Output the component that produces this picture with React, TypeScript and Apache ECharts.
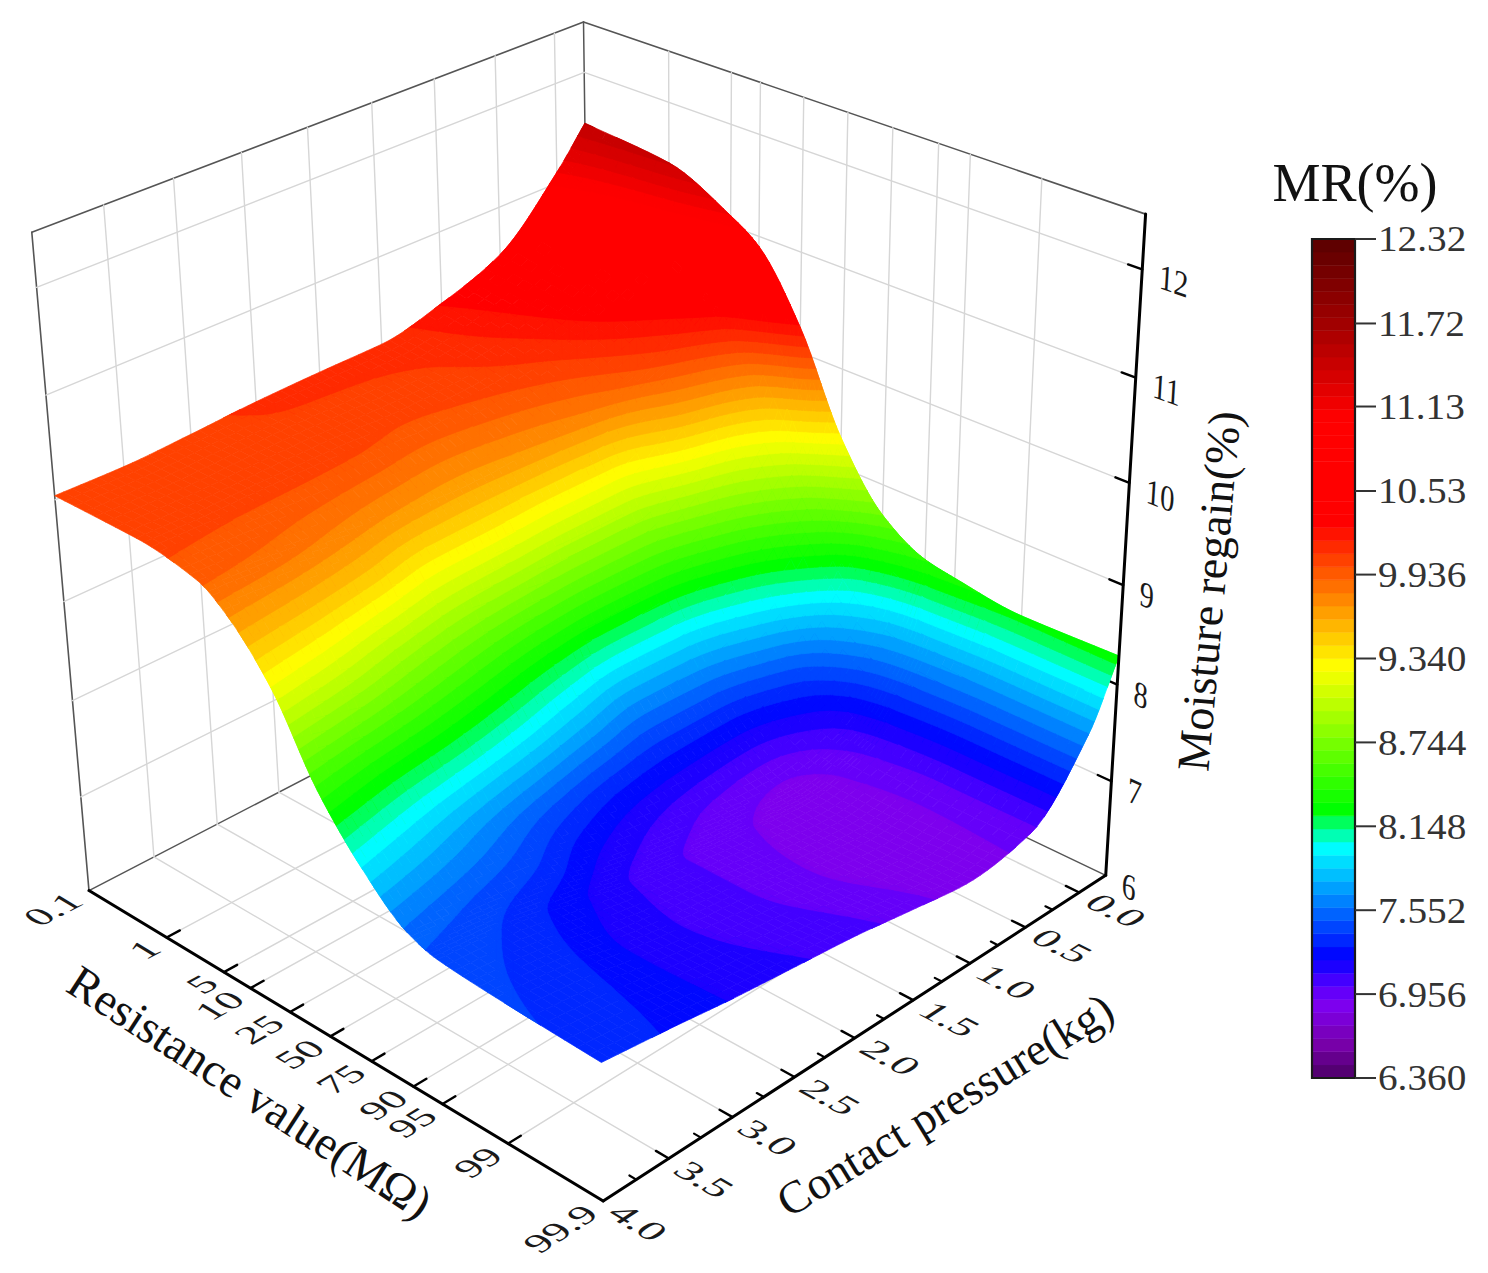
import React, { useEffect, useRef } from "react";
import * as echarts from "echarts";

const FONT = "'Liberation Serif', 'Times New Roman', serif";

// ---- tick labels ----
const resistanceTicks = [0.1, 1, 5, 10, 25, 50, 75, 90, 95, 99, 99.9];
const pressureMajor = [0, 0.5, 1, 1.5, 2, 2.5, 3, 3.5, 4];
const pressureMinor = [0.25, 0.75, 1.25, 1.75, 2.25, 2.75, 3.25, 3.75];
const moistureTicks = [6, 7, 8, 9, 10, 11, 12];
const colorbarTicks = [6.36, 6.956, 7.552, 8.148, 8.744, 9.34, 9.936, 10.53, 11.13, 11.72, 12.32];
const colorbarLabels = ["6.360", "6.956", "7.552", "8.148", "8.744", "9.340", "9.936", "10.53", "11.13", "11.72", "12.32"];

// ---- axis ranges ----
const pressureStart = -0.25;
const pressureEnd = 4;
const moistureMin = 6;
const moistureMax = 12.5;

// ---- surface values: one row per pressure, one value per resistance tick ----
const pressureRows = [-0.25, 0, 0.5, 1, 1.5, 2, 2.5, 3, 3.5, 4];
const mrAtEdge = [11.49, 11.4, 11.1, 10.9, 10.25, 9.3, 8.69, 8.42, 8.36, 8.27, 8.29];
const mrAt00 = [11.11, 10.75, 10.4, 10.1, 9.35, 8.6, 8.0, 7.75, 7.7, 7.65, 7.65];
const mrAt05 = [10.52, 10.35, 10.05, 9.7, 8.75, 7.95, 7.35, 7.08, 7.02, 6.98, 6.98];
const mrAt10 = [10.28, 10.12, 9.82, 9.3, 8.45, 7.68, 7.2, 6.92, 6.86, 6.84, 6.87];
const mrAt15 = [10.13, 10.03, 9.72, 9.3, 8.42, 7.65, 7.22, 6.97, 6.92, 6.9, 6.95];
const mrAt20 = [10.12, 10.0, 9.68, 9.35, 8.5, 7.82, 7.28, 7.06, 7.0, 7.0, 7.05];
const mrAt25 = [10.1, 10.03, 9.72, 9.38, 8.65, 8.02, 7.42, 7.18, 7.1, 7.08, 7.12];
const mrAt30 = [10.06, 10.03, 9.8, 9.55, 8.85, 8.18, 7.6, 7.36, 7.24, 7.18, 7.19];
const mrAt35 = [10.03, 10.02, 9.88, 9.66, 9.08, 8.3, 7.78, 7.46, 7.38, 7.32, 7.28];
const mrAt40 = [10.04, 10.03, 9.92, 9.73, 9.24, 8.47, 7.93, 7.55, 7.45, 7.4, 7.36];
const moistureRows = [mrAtEdge, mrAt00, mrAt05, mrAt10, mrAt15, mrAt20, mrAt25, mrAt30, mrAt35, mrAt40];

// ---- colour scale ----
const colorStopValues = [6.36, 6.6, 6.9, 7.05, 7.22, 8.0, 8.14, 8.27, 9.28, 10.3, 11.05, 11.72, 12.32];
const colorStopRgb = [
  [75, 0, 100], [120, 0, 170], [125, 0, 245], [70, 0, 255], [0, 0, 255], [0, 255, 255], [0, 255, 128],
  [0, 255, 0], [255, 255, 0], [255, 0, 0], [255, 0, 0], [160, 0, 0], [90, 0, 0],
];
const bandCount = 64;
const barMin = 6.36;
const barMax = 12.32;
const bandLow = (i: number) => barMin + ((barMax - barMin) * i) / bandCount;

function colorOf(v: number) {
  let i = 0;
  while (i < colorStopValues.length - 2 && v > colorStopValues[i + 1]) i++;
  const f = Math.max(0, Math.min(1, (v - colorStopValues[i]) / (colorStopValues[i + 1] - colorStopValues[i])));
  const a = colorStopRgb[i];
  const b = colorStopRgb[i + 1];
  return `rgb(${Math.round(a[0] + (b[0] - a[0]) * f)},${Math.round(a[1] + (b[1] - a[1]) * f)},${Math.round(a[2] + (b[2] - a[2]) * f)})`;
}
const bandColor = (i: number) => colorOf(bandLow(i) + (barMax - barMin) / bandCount / 2);
const bandIndex = (v: number) => Math.max(0, Math.min(bandCount - 1, Math.floor(((v - barMin) / (barMax - barMin)) * bandCount)));

// ---- axis scales ----
const logit = (pct: number) => Math.log(pct / 100 / (1 - pct / 100));
const sOf = (r: number) => (logit(r) - logit(0.1)) / (logit(99.9) - logit(0.1));
const tOf = (p: number) => (p - pressureStart) / (pressureEnd - pressureStart);
const wOf = (z: number) => (z - moistureMin) / (moistureMax - moistureMin);

// ---- camera calibration: [s, t, w, screenX, screenY] ----
const cameraAnchors = [
  [0, 1, 0, 89, 890], [1, 1, 0, 604, 1201], [1, 0, 0, 1106, 876], [0, 0, 0, 591, 630],
  [0, 1, 1, 31, 233], [1, 0, 1, 1146, 213], [0, 0, 1, 585, 22],
  [1, 0, 3 / 6.5, 1123, 585], [1, 0, 6 / 6.5, 1141, 270],
];
function solveCamera() {
  const A: number[][] = [];
  const b: number[] = [];
  for (const [s, t, w, x, y] of cameraAnchors) {
    A.push([s, t, w, 1, 0, 0, 0, 0, -x * s, -x * t, -x * w]);
    b.push(x);
    A.push([0, 0, 0, 0, s, t, w, 1, -y * s, -y * t, -y * w]);
    b.push(y);
  }
  const n = 11;
  const M = Array.from({ length: n }, (_, i) => {
    const row = new Array(n + 1).fill(0);
    for (let j = 0; j < n; j++) for (let k = 0; k < A.length; k++) row[j] += A[k][i] * A[k][j];
    for (let k = 0; k < A.length; k++) row[n] += A[k][i] * b[k];
    return row;
  });
  for (let i = 0; i < n; i++) {
    let p = i;
    for (let r = i + 1; r < n; r++) if (Math.abs(M[r][i]) > Math.abs(M[p][i])) p = r;
    [M[i], M[p]] = [M[p], M[i]];
    for (let r = 0; r < n; r++) {
      if (r === i) continue;
      const f = M[r][i] / M[i][i];
      for (let c = i; c <= n; c++) M[r][c] -= f * M[i][c];
    }
  }
  return M.map((row, i) => row[n] / row[i]);
}
const cam = solveCamera();
function project(s: number, t: number, w: number): [number, number] {
  const d = cam[8] * s + cam[9] * t + cam[10] * w + 1;
  return [
    (cam[0] * s + cam[1] * t + cam[2] * w + cam[3]) / d,
    (cam[4] * s + cam[5] * t + cam[6] * w + cam[7]) / d,
  ];
}
function unit(a: [number, number], b: [number, number]): [number, number] {
  const dx = b[0] - a[0];
  const dy = b[1] - a[1];
  const l = Math.hypot(dx, dy) || 1;
  return [dx / l, dy / l];
}

// ---- monotone cubic across nodes ----
function tangents(xs: number[], ys: number[]) {
  const n = xs.length;
  const sec = xs.slice(0, -1).map((_, i) => (ys[i + 1] - ys[i]) / (xs[i + 1] - xs[i]));
  const m = new Array(n).fill(0);
  m[0] = sec[0];
  m[n - 1] = sec[n - 2];
  for (let i = 1; i < n - 1; i++) {
    m[i] = sec[i - 1] * sec[i] <= 0 ? 0 : (2 * sec[i - 1] * sec[i]) / (sec[i - 1] + sec[i]);
  }
  return m;
}
function hermite(xs: number[], ys: number[], x: number) {
  let i = 0;
  while (i < xs.length - 2 && x > xs[i + 1]) i++;
  const m = tangents(xs, ys);
  const h = xs[i + 1] - xs[i];
  const u = (x - xs[i]) / h;
  const u2 = u * u;
  const u3 = u2 * u;
  return (
    (2 * u3 - 3 * u2 + 1) * ys[i] + (u3 - 2 * u2 + u) * h * m[i] + (-2 * u3 + 3 * u2) * ys[i + 1] + (u3 - u2) * h * m[i + 1]
  );
}
const sNodes = resistanceTicks.map(sOf);
const tNodes = pressureRows.map(tOf);
function surfaceZ(s: number, t: number) {
  const col = moistureRows.map((row) => hermite(sNodes, row, s));
  return hermite(tNodes, col, t);
}

// ---- clipping a triangle/quad to a colour band ----
type V = [number, number, number];
function clip(poly: V[], level: number, keepAbove: boolean): V[] {
  const out: V[] = [];
  for (let i = 0; i < poly.length; i++) {
    const a = poly[i];
    const b = poly[(i + 1) % poly.length];
    const ina = keepAbove ? a[2] >= level : a[2] <= level;
    const inb = keepAbove ? b[2] >= level : b[2] <= level;
    if (ina) out.push(a);
    if (ina !== inb) {
      const f = (level - a[2]) / (b[2] - a[2]);
      out.push([a[0] + (b[0] - a[0]) * f, a[1] + (b[1] - a[1]) * f, level]);
    }
  }
  return out;
}
const SUB = 8;
const cellData: number[][] = [];
for (let j = 0; j < pressureRows.length - 1; j++) {
  for (let i = 0; i < resistanceTicks.length - 1; i++) cellData.push([i, j]);
}

function renderCell(_: any, api: any) {
  const i = api.value(0);
  const j = api.value(1);
  const s0 = sNodes[i];
  const s1 = sNodes[i + 1];
  const t0 = tNodes[j];
  const t1 = tNodes[j + 1];
  const verts: V[][] = [];
  for (let a = 0; a <= SUB; a++) {
    const row: V[] = [];
    for (let b = 0; b <= SUB; b++) {
      const s = s0 + ((s1 - s0) * a) / SUB;
      const t = t0 + ((t1 - t0) * b) / SUB;
      const z = surfaceZ(s, t);
      const [x, y] = project(s, t, wOf(z));
      row.push([x, y, z]);
    }
    verts.push(row);
  }
  const children: any[] = [];
  const emit = (poly: V[], band: number) => {
    if (poly.length < 3) return;
    const color = bandColor(band);
    children.push({
      type: "polygon",
      silent: true,
      shape: { points: poly.map((p) => api.coord([p[0], p[1]])) },
      style: { fill: color, stroke: color, lineWidth: 0.7 },
    });
  };
  const drawPoly = (poly: V[]) => {
    const zs = poly.map((p) => p[2]);
    const lo = bandIndex(Math.min(...zs));
    const hi = bandIndex(Math.max(...zs));
    if (lo === hi) {
      emit(poly, lo);
      return;
    }
    for (let k = lo; k <= hi; k++) {
      let piece = poly;
      if (k > lo) piece = clip(piece, bandLow(k), true);
      if (k < hi) piece = clip(piece, bandLow(k + 1), false);
      emit(piece, k);
    }
  };
  for (let a = 0; a < SUB; a++) {
    for (let b = 0; b < SUB; b++) {
      const p = verts[a][b];
      const q = verts[a + 1][b];
      const r = verts[a + 1][b + 1];
      const o = verts[a][b + 1];
      const lo = bandIndex(Math.min(p[2], q[2], r[2], o[2]));
      const hi = bandIndex(Math.max(p[2], q[2], r[2], o[2]));
      if (lo === hi) emit([p, q, r, o], lo);
      else {
        emit([p, q, r, o], Math.round((lo + hi) / 2));
        drawPoly([p, q, r]);
        drawPoly([p, r, o]);
      }
    }
  }
  return { type: "group", children };
}

// ---- line helpers ----
const GRID = "#d6d6d6";
const FRAME = "#555555";
const AXIS = "#000000";
function lineEl(api: any, a: [number, number], b: [number, number], stroke: string, lineWidth: number) {
  const p = api.coord(a);
  const q = api.coord(b);
  return {
    type: "line",
    silent: true,
    shape: { x1: p[0], y1: p[1], x2: q[0], y2: q[1] },
    style: { stroke, lineWidth, lineCap: "round" },
  };
}
// A text placed on a plane of the box: base and down are screen vectors for its x and y units.
function planeText(
  at: number[],
  text: string,
  base: [number, number],
  down: [number, number],
  align: string,
  fontSize: number,
  fill = "#1a1a1a",
) {
  const [a, c] = base;
  const [b, d] = down;
  const E = (a + d) / 2;
  const F = (a - d) / 2;
  const G = (c + b) / 2;
  const H = (c - b) / 2;
  const Q = Math.hypot(E, H);
  const R = Math.hypot(F, G);
  const a1 = Math.atan2(G, F);
  const a2 = Math.atan2(H, E);
  const theta = (a2 - a1) / 2;
  const phi = (a2 + a1) / 2;
  return {
    type: "group",
    x: at[0],
    y: at[1],
    rotation: -phi,
    children: [
      {
        type: "group",
        scaleX: Q + R,
        scaleY: Q - R,
        children: [
          {
            type: "text",
            silent: true,
            rotation: -theta,
            style: { text, x: 0, y: 0, fill, fontFamily: FONT, fontSize, align, verticalAlign: "middle" },
          },
        ],
      },
    ],
  };
}
const scaled = (v: [number, number], k: number): [number, number] => [v[0] * k, v[1] * k];
const moved = (p: [number, number], v: [number, number], k: number): [number, number] => [p[0] + v[0] * k, p[1] + v[1] * k];

function renderResistance(_: any, api: any) {
  const r = resistanceTicks[api.value(0)];
  const s = sOf(r);
  const foot = project(s, 1, 0);
  const back = project(s, 0, 0);
  const top = project(s, 0, 1);
  const children: any[] = [];
  if (r > 0.1 && r < 99.9) {
    children.push(lineEl(api, foot, back, GRID, 1.4));
    children.push(lineEl(api, back, top, GRID, 1.4));
  }
  const base = unit(foot, back);
  const down = unit(foot, project(s + 0.01, 1, 0));
  if (r > 0.1 && r < 99.9) children.push(lineEl(api, foot, moved(foot, base, 15), AXIS, 2.4));
  children.push(
    planeText(api.coord(moved(foot, base, -15)), String(r), scaled(base, 1.15), scaled(down, 0.95), "right", 36),
  );
  return { type: "group", children };
}
function renderPressureMajor(_: any, api: any) {
  const p = pressureMajor[api.value(0)];
  const t = tOf(p);
  const foot = project(1, t, 0);
  const back = project(0, t, 0);
  const top = project(0, t, 1);
  const children: any[] = [];
  if (p < 4) {
    children.push(lineEl(api, foot, back, GRID, 1.4));
    children.push(lineEl(api, back, top, GRID, 1.4));
  }
  const inward = unit(foot, back);
  if (p < 4) children.push(lineEl(api, foot, moved(foot, inward, 15), AXIS, 2.4));
  const base = scaled(inward, -1);
  const down = unit(foot, project(1, t + 0.01, 0));
  children.push(
    planeText(api.coord(moved(foot, base, 14)), p.toFixed(1), scaled(base, 1.2), scaled(down, 0.95), "left", 36),
  );
  return { type: "group", children };
}
function renderPressureMinor(_: any, api: any) {
  const t = tOf(pressureMinor[api.value(0)]);
  const foot = project(1, t, 0);
  return lineEl(api, foot, moved(foot, unit(foot, project(0, t, 0)), 8), AXIS, 2.2);
}
function renderMoisture(_: any, api: any) {
  const z = moistureTicks[api.value(0)];
  const w = wOf(z);
  const right = project(1, 0, w);
  const back = project(0, 0, w);
  const left = project(0, 1, w);
  const children: any[] = [];
  if (z > 6) {
    children.push(lineEl(api, right, back, GRID, 1.4));
    children.push(lineEl(api, back, left, GRID, 1.4));
    children.push(lineEl(api, right, moved(right, unit(right, back), 15), AXIS, 2.4));
  }
  const base = unit(back, right);
  const down = unit(project(1, 0, w + 0.01), right);
  children.push(
    planeText(api.coord(moved(right, base, 18)), String(z), scaled(base, 0.85), scaled(down, 1), "left", 36),
  );
  return { type: "group", children };
}

// ---- box edges: [s0,t0,w0,s1,t1,w1] ----
const backEdges = [
  [0, 0, 0, 0, 0, 1],
  [0, 1, 0, 0, 0, 0],
  [0, 0, 0, 1, 0, 0],
];
const frameEdges = [
  [0, 1, 0, 0, 1, 1],
  [0, 1, 1, 0, 0, 1],
  [0, 0, 1, 1, 0, 1],
];
const axisEdges = [
  [0, 1, 0, 1, 1, 0],
  [1, 1, 0, 1, 0, 0],
  [1, 0, 0, 1, 0, 1],
];
const edgeRenderer = (edges: number[][], color: string, width: number) => (_: any, api: any) => {
  const e = edges[api.value(0)];
  return lineEl(api, project(e[0], e[1], e[2]), project(e[3], e[4], e[5]), color, width);
};

const indexData = (n: number) => Array.from({ length: n }, (_, i) => [i, 0]);

function sceneSeries(name: string, data: number[][], renderItem: any) {
  return {
    type: "custom",
    name,
    coordinateSystem: "cartesian2d",
    xAxisIndex: 0,
    yAxisIndex: 0,
    silent: true,
    clip: false,
    animation: false,
    data,
    renderItem,
  };
}

function renderBand(_: any, api: any) {
  const k = api.value(0);
  const a = api.coord([0, bandLow(k + 1)]);
  const b = api.coord([1, bandLow(k)]);
  const color = bandColor(k);
  return {
    type: "rect",
    silent: true,
    shape: { x: a[0], y: a[1], width: b[0] - a[0], height: b[1] - a[1] },
    style: { fill: color, stroke: color, lineWidth: 0.5 },
  };
}
function renderBarOutline(_: any, api: any) {
  const a = api.coord([0, barMax]);
  const b = api.coord([1, barMin]);
  return {
    type: "rect",
    silent: true,
    shape: { x: a[0], y: a[1], width: b[0] - a[0], height: b[1] - a[1] },
    style: { fill: "none", stroke: "#1a1a1a", lineWidth: 2.2 },
  };
}
function renderBarTick(_: any, api: any) {
  const k = api.value(0);
  const p = api.coord([1, colorbarTicks[k]]);
  return {
    type: "group",
    children: [
      {
        type: "line",
        silent: true,
        shape: { x1: p[0], y1: p[1], x2: p[0] + 21, y2: p[1] },
        style: { stroke: "#333333", lineWidth: 2 },
      },
      planeText([p[0] + 23, p[1]], colorbarLabels[k], [1.09, 0], [0, 1], "left", 36, "#333333"),
    ],
  };
}
function barSeries(name: string, data: number[][], renderItem: any) {
  return {
    type: "custom",
    name,
    coordinateSystem: "cartesian2d",
    xAxisIndex: 1,
    yAxisIndex: 1,
    silent: true,
    clip: false,
    data,
    renderItem,
  };
}

function titleText(text: string, x: number, y: number, rotationDeg: number, fontSize: number) {
  return {
    type: "text",
    x,
    y,
    rotation: (rotationDeg * Math.PI) / 180,
    silent: true,
    style: { text, fill: "#111111", fontFamily: FONT, fontSize, align: "center", verticalAlign: "middle" },
  };
}

export default function App() {
  const ref = useRef<HTMLDivElement>(null);
  useEffect(() => {
    document.body.style.margin = "0";
    document.body.style.background = "#ffffff";
    const chart = echarts.init(ref.current!, undefined, { renderer: "svg" });
    chart.setOption({
      animation: false,
      backgroundColor: "#ffffff",
      grid: [
        { left: 0, top: 0, width: 1488, height: 1273, show: false },
        { left: 1312, top: 239, width: 43, height: 839, show: false },
      ],
      xAxis: [
        { type: "value", gridIndex: 0, min: 0, max: 1488, show: false },
        { type: "value", gridIndex: 1, min: 0, max: 1, show: false },
      ],
      yAxis: [
        { type: "value", gridIndex: 0, min: 0, max: 1273, inverse: true, show: false },
        { type: "value", gridIndex: 1, min: barMin, max: barMax, show: false },
      ],
      series: [
        sceneSeries("back edges", indexData(backEdges.length), edgeRenderer(backEdges, FRAME, 1.5)),
        sceneSeries("frame", indexData(frameEdges.length), edgeRenderer(frameEdges, FRAME, 1.6)),
        sceneSeries("moisture axis", indexData(moistureTicks.length), renderMoisture),
        sceneSeries("resistance axis", indexData(resistanceTicks.length), renderResistance),
        sceneSeries("pressure axis", indexData(pressureMajor.length), renderPressureMajor),
        sceneSeries("pressure minor", indexData(pressureMinor.length), renderPressureMinor),
        sceneSeries("MR surface", cellData, renderCell),
        sceneSeries("axes", indexData(axisEdges.length), edgeRenderer(axisEdges, AXIS, 3)),
        barSeries("colour bar", indexData(bandCount), renderBand),
        barSeries("colour bar outline", [[0, 0]], renderBarOutline),
        barSeries("colour bar ticks", indexData(colorbarTicks.length), renderBarTick),
      ],
      graphic: [
        titleText("Resistance value(MΩ)", 250, 1092, -33, 47),
        titleText("Contact pressure(kg)", 945, 1105, 31.5, 46),
        titleText("Moisture regain(%)", 1209, 591, 84.9, 46),
        titleText("MR(%)", 1355, 183, 0, 54),
      ],
    });
    return () => chart.dispose();
  }, []);
  return <div ref={ref} style={{ width: 1488, height: 1273 }} />;
}
